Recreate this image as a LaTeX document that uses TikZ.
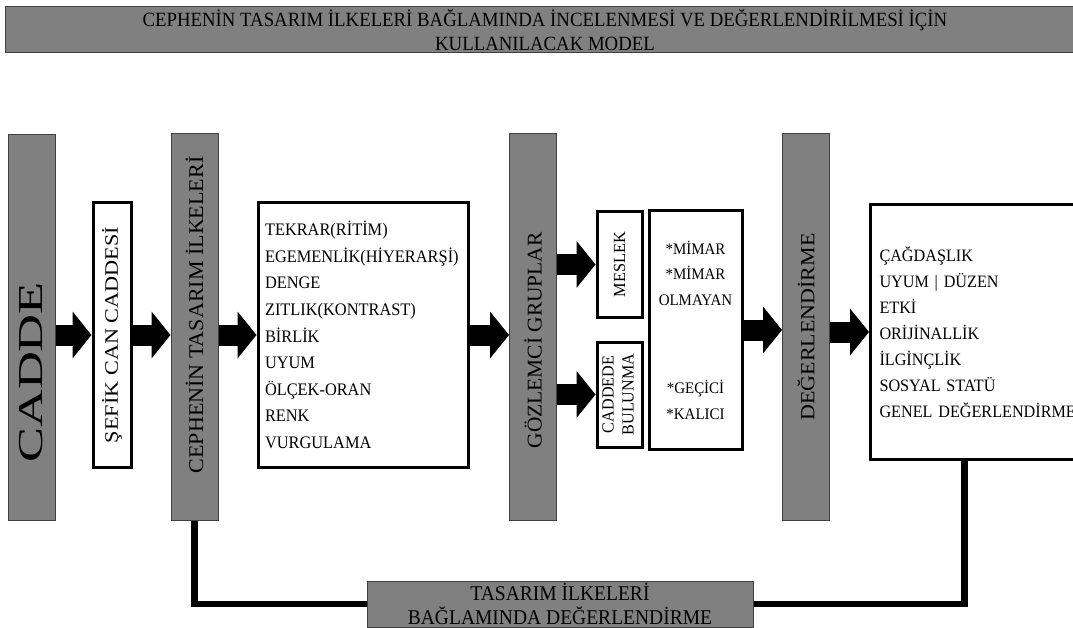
\documentclass[tikz,border=0pt]{standalone}
\usepackage{fontspec}
\setmainfont{Liberation Serif}
\newfontfamily\darfont[FakeStretch=0.93]{Liberation Serif}
\usetikzlibrary{arrows.meta,positioning,calc}
\tikzset{
  graybar/.style={draw=black!75, line width=1pt, fill=black!50, inner sep=0pt,
    minimum width=47pt, minimum height=386pt},
  whitebox/.style={draw=black, line width=3pt, fill=white, inner sep=0pt},
  bigarrow/.style={line width=21pt, -{Triangle[length=19pt,width=47pt,line width=0pt]}},
  link/.style={line width=6.5pt},
}
\newcommand{\dikyazi}[3]{\rotatebox{90}{\fontsize{#1}{#1}\selectfont\scalebox{#2}[1]{#3}}}

\begin{document}
\begin{tikzpicture}[x=1pt,y=-1pt]
    \useasboundingbox (0,0) rectangle (1073,628);
    \node[graybar, minimum width=1080pt, minimum height=46pt, align=center,
      font=\darfont\fontsize{20.2}{24}\selectfont] (baslik) at (545,30)
      {CEPHENİN TASARIM İLKELERİ BAĞLAMINDA İNCELENMESİ VE DEĞERLENDİRİLMESİ İÇİN\\KULLANILACAK MODEL};

    \node[graybar] (cadde) at (31.5,327.5) {\dikyazi{35}{1.5}{CADDE\hspace*{60pt}}};
    \node[whitebox, minimum width=38pt, minimum height=264pt] (sefik) at (112,335)
      {\dikyazi{19}{1.17}{ŞEFİK CAN CADDESİ}};
    \node[graybar] (cephe) at (194.5,327) {\dikyazi{21}{1.05}{\hspace*{23pt}CEPHENİN TASARIM İLKELERİ}};
    \node[whitebox, minimum width=210pt, minimum height=264pt, align=left, text width=196pt,
      font=\darfont\fontsize{17.6}{26.6}\selectfont] (ilkeler) at (363,335)
      {TEKRAR(RİTİM)\\EGEMENLİK(HİYERARŞİ)\\DENGE\\ZITLIK(KONTRAST)\\BİRLİK\\UYUM\\ÖLÇEK-ORAN\\RENK\\VURGULAMA};
    \node[graybar] (gozlem) at (533,327) {\dikyazi{21}{1.02}{GÖZLEMCİ GRUPLAR\hspace*{26pt}}};
    \node[whitebox, minimum width=45pt, minimum height=105pt] (meslek) at (619.5,264.5)
      {\dikyazi{17}{0.96}{MESLEK}};
    \node[whitebox, minimum width=45pt, minimum height=105pt] (bulunma) at (619.5,394.5)
      {\rotatebox{90}{\fontsize{17}{20}\selectfont\scalebox{0.95}[1]{\begin{tabular}{@{}c@{}}CADDEDE\\BULUNMA\end{tabular}}}};
    \node[whitebox, minimum width=93pt, minimum height=238pt, align=center,
      font=\darfont\fontsize{16.1}{25.5}\selectfont] (altgrup) at (695.5,330)
      {*MİMAR\\*MİMAR\\OLMAYAN\\[63pt]*GEÇİCİ\\*KALICI};
    \node[graybar] (deger) at (806,327) {\dikyazi{20}{1.1}{DEĞERLENDİRME}};
    \node[whitebox, minimum width=240pt, minimum height=255pt, anchor=north west, align=left,
      text width=222pt, font=\darfont\fontsize{17.4}{26}\selectfont] (degerler) at (869,203)
      {ÇAĞDAŞLIK\\UYUM | DÜZEN\\ETKİ\\ORİJİNALLİK\\İLGİNÇLİK\\SOSYAL STATÜ\\GENEL DEĞERLENDİRME};
    \node[graybar, minimum width=386pt, minimum height=46pt, align=center,
      font=\darfont\fontsize{21}{24}\selectfont] (sonuc) at (560,604)
      {TASARIM İLKELERİ\\BAĞLAMINDA DEĞERLENDİRME};

    % oklar
    \draw[bigarrow] (cadde.east |- sefik.west) -- (sefik.west);
    \draw[bigarrow] (sefik.east) -- (sefik.east -| cephe.west);
    \draw[bigarrow] (cephe.east |- ilkeler.west) -- (ilkeler.west);
    \draw[bigarrow] (ilkeler.east) -- (ilkeler.east -| gozlem.west);
    \draw[bigarrow] (gozlem.east |- meslek.west) -- (meslek.west);
    \draw[bigarrow] (gozlem.east |- bulunma.west) -- (bulunma.west);
    \draw[bigarrow] (altgrup.east) -- (altgrup.east -| deger.west);
    \draw[bigarrow] (deger.east |- degerler.west) -- (degerler.west);

    % geri besleme
    \draw[link] (cephe.south) |- (sonuc.west);
    \draw[link] ([xshift=-26pt]degerler.south) |- (sonuc.east);
\end{tikzpicture}
\end{document}
